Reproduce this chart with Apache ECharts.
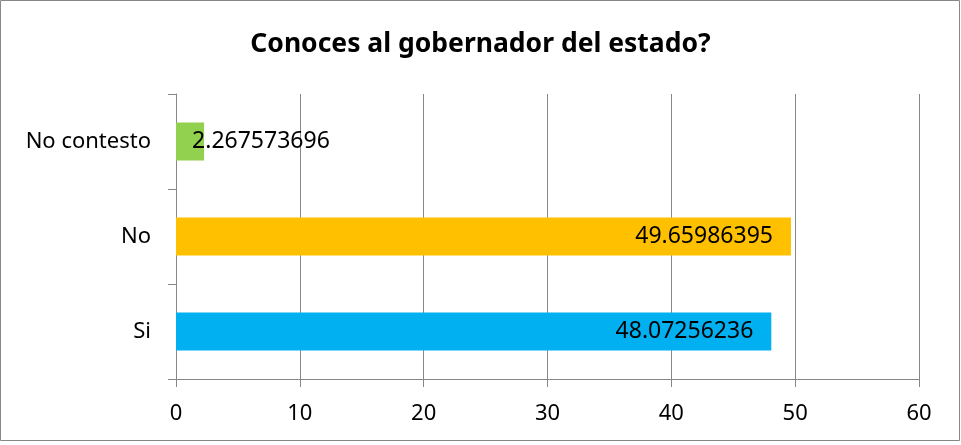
<!DOCTYPE html>
<html>
<head>
<meta charset="utf-8">
<script src="https://cdn.jsdelivr.net/npm/echarts@6/dist/echarts.min.js"></script>
<style>
  html, body { margin: 0; padding: 0; background: #fff; }
  #chart { width: 961px; height: 445px; }
</style>
</head>
<body>
<div id="chart"></div>
<script>
// datos de la grafica
const categories = ['Si', 'No', 'No contesto']
const values = [48.07256236, 49.65986395, 2.267573696]
const barColors = ['#00B0F0', '#FFC000', '#92D050']
const xTicks = [0, 10, 20, 30, 40, 50, 60]

const fontFamily = '"Noto Sans", sans-serif'
const gray = '#878787'

const chart = echarts.init(document.getElementById('chart'))

const seriesData = values.map((v, i) => {
  const item = { value: v, itemStyle: { color: barColors[i] } }
  // la barra pequena lleva la etiqueta hacia fuera
  if (v < 10) {
    item.label = { position: 'right', distance: -12 }
  }
  return item
})

chart.setOption({
  animation: false,
  title: {
    text: 'Conoces al gobernador del estado?',
    left: 'center',
    top: 26,
    textStyle: {
      fontFamily: fontFamily,
      fontSize: 26.5,
      fontWeight: 'bold',
      color: '#000'
    }
  },
  graphic: [
    {
      type: 'rect',
      shape: { x: 0.5, y: 0.5, width: 959, height: 440 },
      style: { fill: 'none', stroke: gray, lineWidth: 1 },
      silent: true
    }
  ],
  grid: {
    left: 176,
    right: 42,
    top: 94,
    bottom: 66
  },
  xAxis: {
    type: 'value',
    min: xTicks[0],
    max: xTicks[xTicks.length - 1],
    interval: 10,
    axisLine: { show: true, lineStyle: { color: gray, width: 1 } },
    axisTick: { show: true, inside: false, length: 8, lineStyle: { color: gray } },
    axisLabel: {
      margin: 24,
      color: '#000',
      fontFamily: fontFamily,
      fontSize: 22
    },
    splitLine: { show: true, lineStyle: { color: gray, width: 1 } }
  },
  yAxis: {
    type: 'category',
    data: categories,
    axisLine: { show: true, lineStyle: { color: gray, width: 1 } },
    axisTick: { show: true, inside: false, length: 8, lineStyle: { color: gray } },
    axisLabel: {
      margin: 25,
      color: '#000',
      fontFamily: fontFamily,
      fontSize: 22
    },
    splitLine: { show: false }
  },
  series: [
    {
      type: 'bar',
      data: seriesData,
      barCategoryGap: '60%',
      label: {
        show: true,
        position: 'insideRight',
        distance: 18,
        color: '#000',
        fontFamily: fontFamily,
        fontSize: 23,
        formatter: p => String(p.value)
      }
    }
  ]
})
</script>
</body>
</html>
